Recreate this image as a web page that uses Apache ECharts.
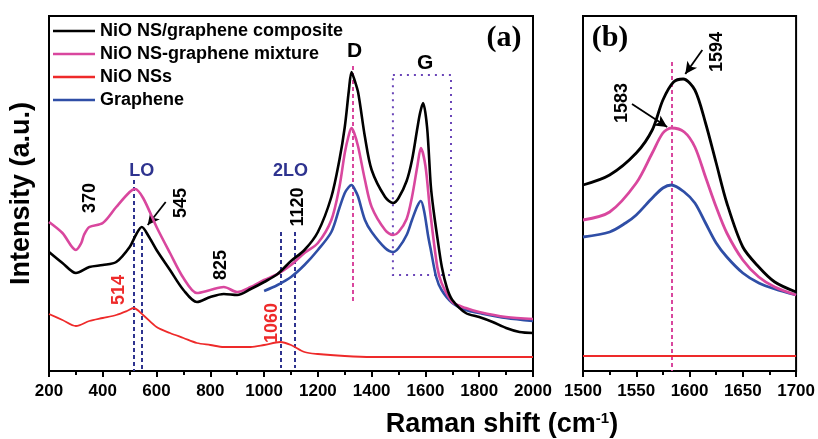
<!DOCTYPE html>
<html>
<head>
<meta charset="utf-8">
<script src="https://cdn.jsdelivr.net/npm/echarts@6/dist/echarts.min.js"></script>
<style>
  html, body { margin: 0; padding: 0; background: #fff; }
  #chart { width: 818px; height: 439px; }
</style>
</head>
<body>
<div id="chart"></div>
<script>
// ---------- Panel (a): full Raman spectra, 200-2000 cm-1 ----------
const compositeShiftA = [200, 250, 300, 350, 400, 450, 500, 525, 545, 570, 600, 650, 700, 750, 800, 850, 900, 950, 1000, 1050, 1100, 1150, 1200, 1250, 1280, 1300, 1315, 1325, 1335, 1350, 1375, 1400, 1450, 1480, 1500, 1530, 1550, 1570, 1580, 1591, 1606, 1620, 1630, 1644, 1661, 1680, 1700, 1750, 1800, 1850, 1900, 1950, 2000];
const compositeIntA = [119, 108, 98, 104, 106, 109, 124, 137, 144, 135, 121, 101, 81, 69, 74, 77, 76, 82, 89, 97, 110, 121, 139, 174, 211, 244, 280, 299, 292, 278, 234, 201, 174, 168, 173, 190, 211, 243, 258, 268, 244, 185, 161, 134, 104, 83, 71, 58, 54, 49, 43, 39, 38];

const mixtureShiftA = [200, 250, 300, 320, 330, 350, 400, 450, 500, 520, 550, 600, 650, 700, 750, 800, 850, 900, 950, 1000, 1050, 1100, 1150, 1200, 1250, 1280, 1300, 1315, 1325, 1335, 1350, 1375, 1400, 1450, 1480, 1500, 1530, 1550, 1570, 1583, 1600, 1617, 1644, 1660, 1700, 1750, 1800, 1900, 2000];
const mixtureIntA = [149, 138, 121, 128, 136, 144, 148, 164, 179, 182, 173, 144, 118, 93, 78, 81, 84, 79, 84, 91, 97, 106, 118, 128, 151, 184, 218, 236, 243, 238, 224, 191, 164, 141, 136, 139, 152, 174, 205, 223, 205, 161, 104, 88, 69, 63, 59, 54, 52];

const nioShiftA = [200, 250, 300, 350, 400, 450, 490, 514, 550, 600, 650, 700, 750, 800, 850, 900, 950, 1000, 1060, 1100, 1150, 1200, 1300, 1400, 1500, 1600, 1700, 1800, 1900, 2000];
const nioIntA = [57, 51, 45, 50, 53, 56, 60, 63, 56, 44, 38, 33, 28, 26, 24, 24, 24, 26, 29, 26, 19, 17, 15, 14, 14, 14, 14, 14, 14, 14];

const grapheneShiftA = [1000, 1050, 1100, 1150, 1200, 1250, 1280, 1300, 1315, 1325, 1340, 1350, 1375, 1400, 1450, 1480, 1500, 1530, 1550, 1570, 1583, 1595, 1610, 1620, 1640, 1660, 1700, 1750, 1800, 1900, 2000];
const grapheneIntA = [80, 86, 94, 106, 121, 139, 163, 178, 184, 186, 180, 174, 151, 139, 123, 119, 123, 136, 151, 165, 170, 160, 135, 121, 94, 81, 68, 61, 58, 53, 50];

// ---------- Panel (b): G band detail, 1500-1700 cm-1 ----------
const compositeShiftB = [1500, 1525, 1550, 1565, 1575, 1585, 1594, 1605, 1615, 1625, 1635, 1650, 1665, 1680, 1700];
const compositeIntB = [186, 196, 218, 241, 271, 289, 292, 281, 248, 208, 168, 124, 104, 89, 79];

const mixtureShiftB = [1500, 1525, 1550, 1565, 1575, 1583, 1595, 1605, 1615, 1625, 1635, 1650, 1665, 1680, 1700];
const mixtureIntB = [151, 159, 188, 218, 238, 243, 239, 224, 194, 164, 138, 111, 94, 84, 76];

const nioShiftB = [1500, 1550, 1600, 1650, 1700];
const nioIntB = [15, 15, 15, 15, 15];

const grapheneShiftB = [1500, 1525, 1540, 1550, 1565, 1575, 1583, 1595, 1605, 1615, 1625, 1635, 1650, 1665, 1680, 1700];
const grapheneIntB = [134, 139, 148, 156, 173, 183, 186, 179, 168, 148, 128, 114, 98, 88, 82, 76];

// Tick labels
const ticksA = [200, 400, 600, 800, 1000, 1200, 1400, 1600, 1800, 2000];
const ticksB = [1500, 1550, 1600, 1650, 1700];

const seriesNames = ['NiO NS/graphene composite', 'NiO NS-graphene mixture', 'NiO NSs', 'Graphene'];
const seriesColors = ['#000000', '#d9479e', '#ee2a2a', '#2f4ea6'];

const FONT = 'Liberation Sans, Arial, sans-serif';
const NAVY = '#2e338f';
const PURPLE = '#6a45b8';

function zip(xs, ys) { return xs.map((x, i) => [x, ys[i]]); }

const chart = echarts.init(document.getElementById('chart'), null, { renderer: 'canvas' });

function xAxisFor(gridIndex, ticks, interval) {
  return {
    type: 'value', gridIndex,
    min: ticks[0], max: ticks[ticks.length - 1], interval,
    axisLine: { show: true, onZero: false, lineStyle: { color: '#000', width: 2 } },
    axisTick: { show: true, inside: false, length: 6, lineStyle: { color: '#000', width: 2 } },
    minorTick: { show: true, splitNumber: 2, length: 4, lineStyle: { color: '#000', width: 2 } },
    splitLine: { show: false },
    axisLabel: { color: '#000', fontFamily: FONT, fontWeight: 'bold', fontSize: 17, margin: 12,
      formatter: v => ticks.includes(v) ? String(v) : '' }
  };
}
function yAxisFor(gridIndex, withName) {
  return {
    type: 'value', gridIndex, min: 0, max: 355,
    axisLine: { show: false }, axisTick: { show: false }, axisLabel: { show: false },
    splitLine: { show: false },
    name: withName ? 'Intensity (a.u.)' : '',
    nameLocation: 'middle', nameGap: 14,
    nameTextStyle: { color: '#000', fontFamily: FONT, fontWeight: 'bold', fontSize: 27 }
  };
}

const arrowLine = { color: '#000', width: 1.8, type: 'solid' };
const navyDash = { color: NAVY, width: 2, type: [4, 3] };
const magentaDash = { color: '#d9479e', width: 2, type: [4, 3] };

const shiftsA = [compositeShiftA, mixtureShiftA, nioShiftA, grapheneShiftA];
const intsA = [compositeIntA, mixtureIntA, nioIntA, grapheneIntA];
const shiftsB = [compositeShiftB, mixtureShiftB, nioShiftB, grapheneShiftB];
const intsB = [compositeIntB, mixtureIntB, nioIntB, grapheneIntB];

const series = [];
seriesNames.forEach((name, i) => {
  series.push({
    name, type: 'line', xAxisIndex: 0, yAxisIndex: 0,
    data: zip(shiftsA[i], intsA[i]), showSymbol: false, smooth: 0.3,
    lineStyle: { color: seriesColors[i], width: i === 2 ? 1.8 : 2.6 },
    itemStyle: { color: seriesColors[i] }, z: 10 - i
  });
});
seriesNames.forEach((name, i) => {
  series.push({
    name, type: 'line', xAxisIndex: 1, yAxisIndex: 1,
    data: zip(shiftsB[i], intsB[i]), showSymbol: false, smooth: 0.3,
    lineStyle: { color: seriesColors[i], width: i === 2 ? 1.8 : 2.8 },
    itemStyle: { color: seriesColors[i] }, z: 10 - i
  });
});

// Reference lines, G-band box and arrows drawn in data coordinates
series[0].markLine = {
  silent: true, symbol: ['none', 'none'], label: { show: false }, animation: false,
  data: [
    [{ coord: [514, 191], lineStyle: navyDash }, { coord: [514, 0] }],
    [{ coord: [545, 139], lineStyle: navyDash }, { coord: [545, 0] }],
    [{ coord: [1063, 139], lineStyle: navyDash }, { coord: [1063, 3] }],
    [{ coord: [1113, 139], lineStyle: navyDash }, { coord: [1113, 3] }],
    [{ coord: [1331, 305], lineStyle: magentaDash }, { coord: [1331, 68] }]
  ]
};
series[0].markArea = {
  silent: true, animation: false,
  itemStyle: { color: 'rgba(0,0,0,0)', borderColor: PURPLE, borderWidth: 2, borderType: [2, 5] },
  data: [[{ coord: [1479, 296] }, { coord: [1695, 96] }]]
};
series[1].markLine = {
  silent: true, symbol: ['none', 'arrow'], symbolSize: [9, 12], label: { show: false }, animation: false,
  data: [[{ coord: [634, 169], lineStyle: arrowLine }, { coord: [567, 146] }]]
};
series[4].markLine = {
  silent: true, symbol: ['none', 'arrow'], symbolSize: [9, 12], label: { show: false }, animation: false,
  data: [
    [{ coord: [1546, 267], lineStyle: arrowLine }, { coord: [1579, 244] }],
    [{ coord: [1612, 321], lineStyle: arrowLine }, { coord: [1596, 297] }]
  ]
};
series[5].markLine = {
  silent: true, symbol: ['none', 'none'], label: { show: false }, animation: false,
  data: [[{ coord: [1583, 309], lineStyle: magentaDash }, { coord: [1583, 0] }]]
};

chart.setOption({
  animation: false,
  backgroundColor: '#fff',
  grid: [
    { left: 48, top: 16, width: 485, height: 355, show: true, borderColor: '#000', borderWidth: 2, backgroundColor: 'transparent' },
    { left: 583, top: 16, width: 215, height: 355, show: true, borderColor: '#000', borderWidth: 2, backgroundColor: 'transparent' }
  ],
  xAxis: [xAxisFor(0, ticksA, 200), xAxisFor(1, ticksB, 50)],
  yAxis: [yAxisFor(0, true), yAxisFor(1, false)],
  legend: {
    orient: 'vertical', left: 53, top: 22, padding: 0,
    data: seriesNames.map((n, i) => ({ name: n, icon: 'rect', itemStyle: { color: seriesColors[i] } })),
    itemWidth: 42, itemHeight: 2.5, itemGap: 5,
    textStyle: { color: '#000', fontFamily: FONT, fontWeight: 'bold', fontSize: 18 },
    selectedMode: false
  },
  series
});

// Peak labels placed at data positions
const labelsA = [
  { text: '370', at: [352, 173], color: '#000', rot: true },
  { text: '545', at: [690, 168], color: '#000', rot: true },
  { text: '825', at: [838, 106], color: '#000', rot: true },
  { text: '514', at: [460, 81], color: '#ee2a2a', rot: true },
  { text: '1120', at: [1128, 164], color: '#000', rot: true },
  { text: '1060', at: [1031, 48], color: '#ee2a2a', rot: true },
  { text: 'LO', at: [545, 200], color: NAVY, rot: false, size: 18 },
  { text: '2LO', at: [1098, 200], color: NAVY, rot: false, size: 18 },
  { text: 'D', at: [1336, 320], color: '#000', rot: false, size: 21 },
  { text: 'G', at: [1599, 308], color: '#000', rot: false, size: 21 }
];
const labelsB = [
  { text: '1583', at: [1537, 268], color: '#000', rot: true },
  { text: '1594', at: [1626, 319], color: '#000', rot: true }
];

function textEl(item, gridIndex) {
  const p = chart.convertToPixel({ gridIndex }, item.at);
  return {
    type: 'text', x: p[0], y: p[1], rotation: item.rot ? Math.PI / 2 : 0, silent: true,
    style: { text: item.text, fill: item.color, font: `bold ${item.size || 18}px ${FONT}`,
      textAlign: 'center', textVerticalAlign: 'middle' }
  };
}

const graphics = [];
labelsA.forEach(l => graphics.push(textEl(l, 0)));
labelsB.forEach(l => graphics.push(textEl(l, 1)));
graphics.push({
  type: 'text', x: 504, y: 38, silent: true,
  style: { text: '(a)', fill: '#000', font: 'bold 30px "Liberation Serif", "Times New Roman", serif', textAlign: 'center', textVerticalAlign: 'middle' }
});
graphics.push({
  type: 'text', x: 610, y: 38, silent: true,
  style: { text: '(b)', fill: '#000', font: 'bold 30px "Liberation Serif", "Times New Roman", serif', textAlign: 'center', textVerticalAlign: 'middle' }
});
graphics.push({
  type: 'text', x: 502, y: 425, silent: true,
  style: {
    text: '{m|Raman shift (cm}{s|-1}{m|)}', textAlign: 'center', textVerticalAlign: 'middle',
    rich: {
      m: { fontFamily: FONT, fontWeight: 'bold', fontSize: 27, fill: '#000', color: '#000' },
      s: { fontFamily: FONT, fontWeight: 'bold', fontSize: 15, fill: '#000', color: '#000', verticalAlign: 'top', padding: [0, 0, 13, 0] }
    }
  }
});

chart.setOption({ graphic: graphics });
</script>
</body>
</html>
